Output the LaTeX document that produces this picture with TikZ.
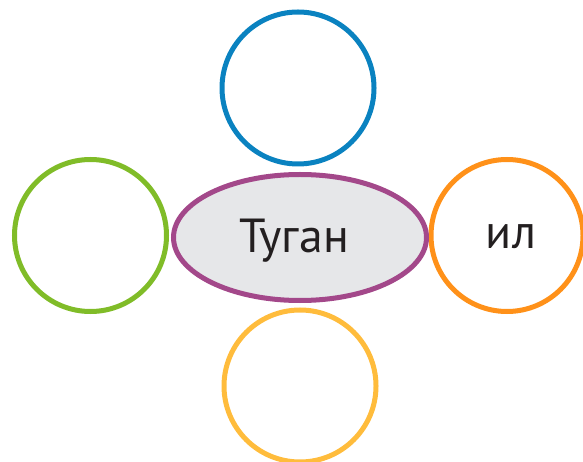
\documentclass[tikz,border=0pt]{standalone}
\usepackage{fontspec}
\setmainfont{PT Sans}
\usetikzlibrary{shapes.geometric}
\definecolor{ringblue}{RGB}{10,130,192}
\definecolor{ringgreen}{RGB}{128,188,40}
\definecolor{ringorange}{RGB}{255,145,25}
\definecolor{ringyellow}{RGB}{255,188,60}
\definecolor{hubpurple}{RGB}{163,72,138}
\definecolor{hubfill}{RGB}{230,231,233}
\definecolor{wordink}{RGB}{35,31,32}
\begin{document}
\begin{tikzpicture}[
  x=1bp, y=-1bp,
  ring/.style={circle, draw, line width=5bp, minimum size=152bp, inner sep=0pt},
  hub/.style={ellipse, draw=hubpurple, fill=hubfill, line width=5bp, minimum width=253bp, minimum height=126bp, inner sep=0pt},
  word/.style={anchor=base, inner sep=0pt, text=wordink, font=\fontsize{48}{52}\selectfont}
]
\useasboundingbox (0,0) rectangle (583,462);
\node[ring, draw=ringblue] (top) at (298,88) {};
\node[ring, draw=ringgreen] (left) at (90.5,235.5) {};
\node[ring, draw=ringorange] (right) at (507,235.5) {};
\node[ring, draw=ringyellow] (bottom) at (300,386) {};
\node[hub] (center) at (300,237.5) {};
\node[word] (centerword) at (294,253) {Туган};
\node[word] (rightword) at (511,249) {ил};
\end{tikzpicture}
\end{document}
